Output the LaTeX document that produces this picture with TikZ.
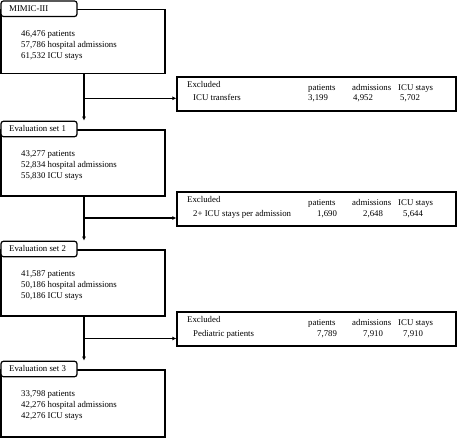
\documentclass[tikz,border=0pt]{standalone}
\usepackage{fontspec}
\setmainfont{Liberation Serif}
\usetikzlibrary{arrows.meta}
\begin{document}
\begin{tikzpicture}[x=1pt,y=-1pt,
  font=\fontsize{8.8}{11}\selectfont,
  mainbox/.style={draw,line width=1.2pt,minimum width=164pt,inner sep=0pt},
  tabbox/.style={draw,fill=white,line width=1.2pt,rounded corners=2.5pt,minimum width=76pt,minimum height=15.5pt,inner sep=0pt},
  exbox/.style={draw,line width=1.2pt,minimum width=279pt,minimum height=34pt,inner sep=0pt},
  txt/.style={anchor=base west,inner sep=0pt},
  flow/.style={line width=1.2pt},
  arr/.style={line width=1.2pt,-{Latex[length=4pt,width=4pt]}}]
\useasboundingbox (0,0) rectangle (457,438);

% main boxes
\node[mainbox,minimum height=64pt] (b0) at (83,41.5) {};
\node[mainbox,minimum height=66pt] (b1) at (83,163) {};
\node[mainbox,minimum height=66pt] (b2) at (83,283) {};
\node[mainbox,minimum height=67pt] (b3) at (83,403.5) {};

% tabs
\node[tabbox] (t0) at (39,8.75) {};
\node[tabbox] (t1) at (39,129) {};
\node[tabbox] (t2) at (39,249) {};
\node[tabbox] (t3) at (39,369) {};
\node[txt] (tt0) at (9,11.7) {MIMIC-III};
\node[txt] (tt1) at (9,131.7) {Evaluation set 1};
\node[txt] (tt2) at (9,251.7) {Evaluation set 2};
\node[txt] (tt3) at (9,371.7) {Evaluation set 3};

% main texts (base = last line)
\node[txt,align=left] (m0) at (21,58.7) {46,476 patients\\57,786 hospital admissions\\61,532 ICU stays};
\node[txt,align=left] (m1) at (21,178.7) {43,277 patients\\52,834 hospital admissions\\55,830 ICU stays};
\node[txt,align=left] (m2) at (21,298.7) {41,587 patients\\50,186 hospital admissions\\50,186 ICU stays};
\node[txt,align=left] (m3) at (21,418.7) {33,798 patients\\42,276 hospital admissions\\42,276 ICU stays};

% excluded boxes
\node[exbox] (e0) at (316.5,94) {};
\node[exbox] (e1) at (316.5,209) {};
\node[exbox] (e2) at (316.5,329) {};

% excluded box 1 text
\node[txt] (x0a) at (187,87.3) {Excluded};
\node[txt] (x0b) at (308,90.7) {patients};
\node[txt] (x0c) at (352,90.7) {admissions};
\node[txt] (x0d) at (398,90.7) {ICU stays};
\node[txt] (x0e) at (193,101) {ICU transfers};
\node[txt] (x0f) at (308,101) {3,199};
\node[txt] (x0g) at (353,101) {4,952};
\node[txt] (x0h) at (400,101) {5,702};

% excluded box 2 text
\node[txt] (x1a) at (187,202.3) {Excluded};
\node[txt] (x1b) at (308,205.7) {patients};
\node[txt] (x1c) at (352,205.7) {admissions};
\node[txt] (x1d) at (398,205.7) {ICU stays};
\node[txt] (x1e) at (193,216) {2+ ICU stays per admission};
\node[txt] (x1f) at (317,216) {1,690};
\node[txt] (x1g) at (363,216) {2,648};
\node[txt] (x1h) at (403,216) {5,644};

% excluded box 3 text
\node[txt] (x2a) at (187,322.3) {Excluded};
\node[txt] (x2b) at (308,325.7) {patients};
\node[txt] (x2c) at (352,325.7) {admissions};
\node[txt] (x2d) at (398,325.7) {ICU stays};
\node[txt] (x2e) at (193,336) {Pediatric patients};
\node[txt] (x2f) at (317,336) {7,789};
\node[txt] (x2g) at (363,336) {7,910};
\node[txt] (x2h) at (403,336) {7,910};

% junctions
\coordinate (j0) at (84,98.3);
\coordinate (j1) at (84,218);
\coordinate (j2) at (84,338.5);

% connectors
\draw[arr] (b0.south -| j0) -- (t1.north -| j0);
\draw[arr] (b1.south -| j1) -- (t2.north -| j1);
\draw[arr] (b2.south -| j2) -- (t3.north -| j2);
\draw[arr] (j0) -- (j0 -| e0.west);
\draw[arr] (j1) -- (j1 -| e1.west);
\draw[arr] (j2) -- (j2 -| e2.west);
\end{tikzpicture}
\end{document}
